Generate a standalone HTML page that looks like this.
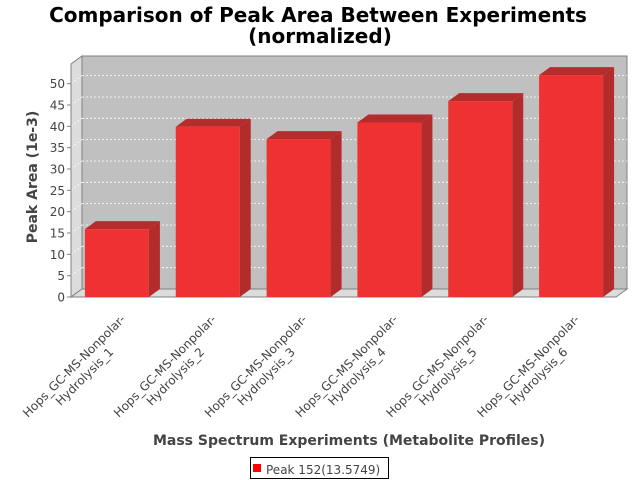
<!DOCTYPE html>
<html><head><meta charset="utf-8"><style>
html,body{margin:0;padding:0;background:#fff;}
svg{display:block;font-family:"DejaVu Sans","Liberation Sans",sans-serif;}
</style></head><body>
<svg id="chart" width="640" height="480" viewBox="0 0 640 480">
<text x="318" y="22" font-size="20" font-weight="bold" text-anchor="middle" fill="#000">Comparison of Peak Area Between Experiments</text>
<text x="320" y="43" font-size="20" font-weight="bold" text-anchor="middle" fill="#000">(normalized)</text>
<g id="plot"></g>
<text transform="translate(37,177) rotate(-90)" font-size="14" font-weight="bold" text-anchor="middle" fill="#444">Peak Area (1e-3)</text>
<text x="349" y="445" font-size="14" font-weight="bold" text-anchor="middle" fill="#444">Mass Spectrum Experiments (Metabolite Profiles)</text>
<g>
<rect x="250.5" y="457.5" width="138" height="21" fill="#fff" stroke="#000"/>
<rect x="253" y="464" width="8" height="8" fill="#ff0000"/>
<text x="266" y="474" font-size="12" fill="#444">Peak 152(13.5749)</text>
</g>
</svg>
<script>
const categories = ["Hops_GC-MS-Nonpolar-Hydrolysis_1","Hops_GC-MS-Nonpolar-Hydrolysis_2","Hops_GC-MS-Nonpolar-Hydrolysis_3","Hops_GC-MS-Nonpolar-Hydrolysis_4","Hops_GC-MS-Nonpolar-Hydrolysis_5","Hops_GC-MS-Nonpolar-Hydrolysis_6"];
const peakValues = [15.9, 39.9, 37.0, 40.9, 45.9, 52.0];
const yTicks = [0,5,10,15,20,25,30,35,40,45,50];

const NS = "http://www.w3.org/2000/svg";
const g = document.getElementById("plot");
const X0 = 71, X1 = 616, Y0 = 297, YTOP = 64, DX = 11, DY = -8;
const yMax = 54.6;
function yScale(v){ return Y0 - (v / yMax) * (Y0 - YTOP); }
const band = (X1 - X0) / categories.length;
const barW = 64;
function xCenter(i){ return X0 + band * (i + 0.5) + 0.5; }
function mk(tag, attrs){ const e = document.createElementNS(NS, tag); for (const k in attrs) e.setAttribute(k, attrs[k]); g.appendChild(e); return e; }

// walls
let e;
e = mk("rect", {x: X0+DX, y: YTOP+DY, width: X1-X0, height: Y0-YTOP, fill: "#c0c0c0", stroke: "#808080"});


e = mk("polygon", {points: `${X0},${Y0} ${X0+DX},${Y0+DY} ${X0+DX},${YTOP+DY} ${X0},${YTOP}`, fill: "#dcdcdc", stroke: "#808080"});


e = mk("polygon", {points: `${X0},${Y0} ${X0+DX},${Y0+DY} ${X1+DX},${Y0+DY} ${X1},${Y0}`, fill: "#dcdcdc", stroke: "#808080"});



// gridlines & ticks
yTicks.forEach(v => {
  const y = yScale(v);
  if (v > 0) {
    e = mk("line", {x1: X0+DX, y1: y+DY, x2: X1+DX, y2: y+DY, stroke: "#ffffff", "stroke-dasharray": "2,2", "stroke-width": 0.8});
    
    
    e = mk("line", {x1: X0, y1: y, x2: X0+DX, y2: y+DY, stroke: "#ffffff", "stroke-dasharray": "2,2", "stroke-width": 0.8});
    
    
  }
  e = mk("line", {x1: X0-4, y1: y, x2: X0, y2: y, stroke: "#808080"});
  
  
  e = mk("text", {x: X0-6, y: y+4.5, "font-size": 12, "text-anchor": "end", fill: "#444"});
  e.textContent = String(v);
  
  
});
e = mk("line", {x1: X0, y1: YTOP, x2: X0, y2: Y0, stroke: "#808080"});


e = mk("line", {x1: X0, y1: Y0, x2: X1, y2: Y0, stroke: "#808080"});



// bars
peakValues.forEach((v, i) => {
  const cx = xCenter(i), x = cx - barW/2, y = yScale(v);
  e = mk("polygon", {points: `${x+barW},${Y0} ${x+barW+DX},${Y0+DY} ${x+barW+DX},${y+DY} ${x+barW},${y}`, fill: "#b22c2c"});
  
  
  e = mk("polygon", {points: `${x},${y} ${x+DX},${y+DY} ${x+barW+DX},${y+DY} ${x+barW},${y}`, fill: "#b52c2c"});
  
  
  e = mk("rect", {x: x, y: y, width: barW, height: Y0 - y, fill: "#ee3131"});
  
  
});

// category labels
categories.forEach((c, i) => {
  const cx = xCenter(i);
  const parts = [c.slice(0, 20), c.slice(20)];
  parts.forEach((p, j) => {
    const ax = cx - 40 + j*10.5, ay = 369 + j*10.5;
    e = mk("text", {x: ax, y: ay, "font-size": 12, "text-anchor": "middle", fill: "#444", transform: `rotate(-45 ${ax} ${ay})`});
    e.textContent = p;
    
    
  });
});
</script>
</body></html>
